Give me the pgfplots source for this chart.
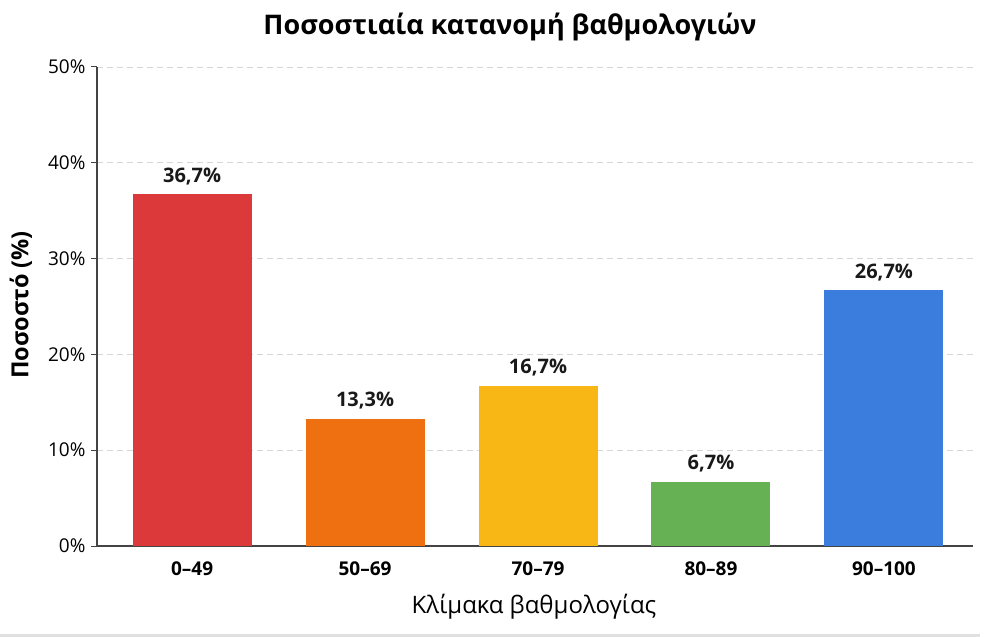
\documentclass[border=0pt]{standalone}
\usepackage{pgfplots}
\pgfplotsset{compat=1.18}
\usepackage{fontspec}
\setmainfont{Open Sans}
\definecolor{cred}{HTML}{DC3A3A}
\definecolor{corange}{HTML}{EE7010}
\definecolor{cyellow}{HTML}{F8B714}
\definecolor{cgreen}{HTML}{66B153}
\definecolor{cblue}{HTML}{3B7DDD}
\definecolor{caxis}{HTML}{444444}
\begin{document}
\begin{tikzpicture}
\path[use as bounding box] (-97pt,-91pt) rectangle (888pt,546pt);
\fill[black!12] (-97pt,-91pt) rectangle (883pt,-88pt);
\begin{axis}[
  at={(0pt,0pt)}, anchor=south west,
  scale only axis, width=876pt, height=479pt,
  xmin=-0.55, xmax=4.515, ymin=0, ymax=50,
  axis lines*=left,
  axis line style={draw=caxis, line width=1.2pt},
  ybar, bar width=119pt, bar shift=0pt,
  ytick={0,10,20,30,40,50},
  yticklabel={\pgfmathprintnumber{\tick}\%},
  /pgf/number format/assume math mode=true,
  xtick={0,1,2,3,4},
  xticklabels={0–49,50–69,70–79,80–89,90–100},
  x tick label style={font=\fontsize{19}{22}\selectfont\bfseries, yshift=-6pt},
  y tick label style={font=\fontsize{19}{22}\selectfont, xshift=-2pt},
  x tick style={draw=none},
  y tick style={draw=caxis, line width=1pt},
  tick align=outside, major tick length=6pt,
  ymajorgrids,
  grid style={dash pattern=on 6pt off 4pt, draw=black!16, line width=0.8pt},
  nodes near coords={\pgfmathprintnumber[fixed,fixed zerofill,precision=1,use comma]{\pgfplotspointmeta}\%},
  nodes near coords style={font=\fontsize{20}{24}\selectfont\bfseries, yshift=6pt, text=black!90},
]
\addplot[fill=cred, draw=none] coordinates {(0,36.7)};
\addplot[fill=corange, draw=none] coordinates {(1,13.3)};
\addplot[fill=cyellow, draw=none] coordinates {(2,16.7)};
\addplot[fill=cgreen, draw=none] coordinates {(3,6.7)};
\addplot[fill=cblue, draw=none] coordinates {(4,26.7)};
\end{axis}
\node[font=\fontsize{27}{32}\selectfont\bfseries] at (413pt,519pt) {Ποσοστιαία κατανομή βαθμολογιών};
\node[font=\fontsize{23.5}{28}\selectfont\bfseries, rotate=90] at (-76pt,241pt) {Ποσοστό (\%)};
\node[font=\fontsize{24}{28}\selectfont] at (437pt,-61pt) {Κλίμακα βαθμολογίας};
\end{tikzpicture}
\end{document}
